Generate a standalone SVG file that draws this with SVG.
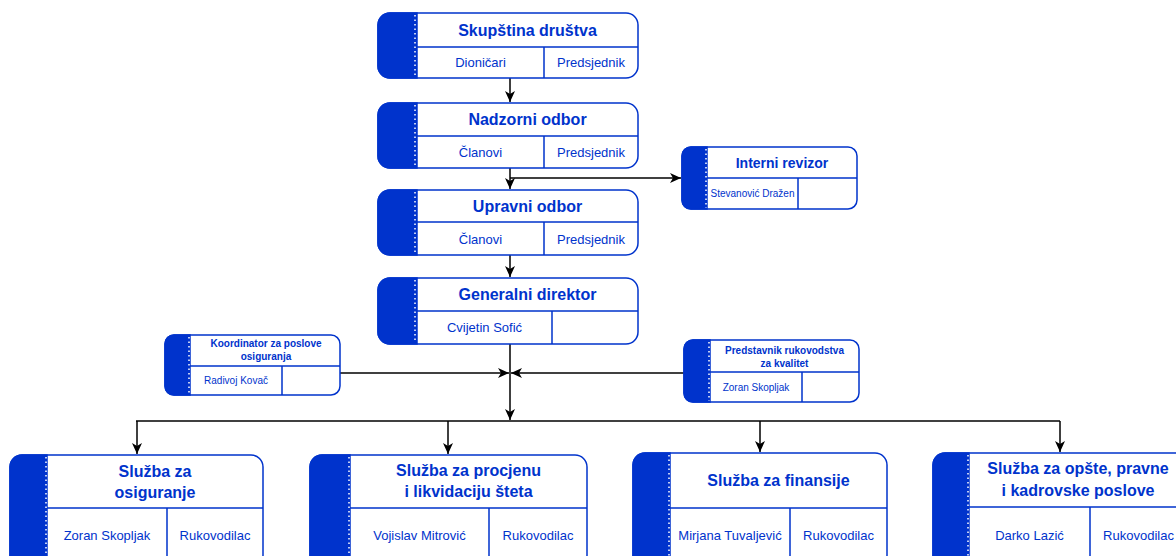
<svg xmlns="http://www.w3.org/2000/svg" width="1176" height="556" viewBox="0 0 1176 556">
<defs>
<marker id="arr" markerWidth="12" markerHeight="12" refX="11" refY="6" orient="auto" markerUnits="userSpaceOnUse">
<path d="M0,1 L11,6 L0,11 L3,6 Z" fill="#000"/>
</marker>
<style>
.box{fill:#fff;stroke:#0033cc;stroke-width:1.5}
.dark{fill:#0033cc;stroke:#0033cc;stroke-width:1.5}
.dot{stroke:#fff;stroke-width:1.5;stroke-dasharray:1.5 3;fill:none}
.div{stroke:#0033cc;stroke-width:1.5;fill:none}
.t{font-family:"Liberation Sans",Arial,sans-serif;fill:#0033cc;text-anchor:middle}
.b16{font-size:16px;font-weight:bold}
.b14{font-size:14px;font-weight:bold}
.b10{font-size:10px;font-weight:bold}
.r13{font-size:13px}
.r10{font-size:10px}
.c{stroke:#000;stroke-width:1.5;fill:none}
</style>
</defs>

<g id="connectors">
<path class="c" d="M510,78 V102" marker-end="url(#arr)"/>
<path class="c" d="M510,168 V189" marker-end="url(#arr)"/>
<path class="c" d="M510,178 H681" marker-end="url(#arr)"/>
<path class="c" d="M510,255 V277" marker-end="url(#arr)"/>
<path class="c" d="M510,344 V420" marker-end="url(#arr)"/>
<path class="c" d="M340,373 H509" marker-end="url(#arr)"/>
<path class="c" d="M684,373 H511" marker-end="url(#arr)"/>
<path class="c" d="M136,421 H1060"/>
<path class="c" d="M137,421 V454" marker-end="url(#arr)"/>
<path class="c" d="M448,421 V454" marker-end="url(#arr)"/>
<path class="c" d="M760,421 V452" marker-end="url(#arr)"/>
<path class="c" d="M1060,421 V452" marker-end="url(#arr)"/>
</g>

<g id="skupstina">
<rect class="box" x="378" y="13" width="260" height="65" rx="12"/>
<path class="dark" d="M390,13 H417 V78 H390 A12,12 0 0 1 378,66 V25 A12,12 0 0 1 390,13 Z"/>
<line class="dot" x1="415" y1="15" x2="415" y2="77"/>
<path class="div" d="M417,47 H638 M544,47 V78"/>
<text class="t b16" x="527.5" y="36">Skupština društva</text>
<text class="t r13" x="480.5" y="67">Dioničari</text>
<text class="t r13" x="591" y="67">Predsjednik</text>
</g>

<g id="nadzorni">
<rect class="box" x="378" y="103" width="260" height="65" rx="12"/>
<path class="dark" d="M390,103 H417 V168 H390 A12,12 0 0 1 378,156 V115 A12,12 0 0 1 390,103 Z"/>
<line class="dot" x1="415" y1="105" x2="415" y2="167"/>
<path class="div" d="M417,136 H638 M544,136 V168"/>
<text class="t b16" x="527.5" y="125">Nadzorni odbor</text>
<text class="t r13" x="480.5" y="157">Članovi</text>
<text class="t r13" x="591" y="157">Predsjednik</text>
</g>

<g id="interni">
<rect class="box" x="682" y="147" width="175" height="62" rx="9"/>
<path class="dark" d="M691,147 H707 V209 H691 A9,9 0 0 1 682,200 V156 A9,9 0 0 1 691,147 Z"/>
<line class="dot" x1="706" y1="149" x2="706" y2="208"/>
<path class="div" d="M707,178 H857 M798,178 V209"/>
<text class="t b14" x="782" y="168">Interni revizor</text>
<text class="t r10" x="752.5" y="197">Stevanović Dražen</text>
</g>

<g id="upravni">
<rect class="box" x="378" y="190" width="260" height="65" rx="12"/>
<path class="dark" d="M390,190 H417 V255 H390 A12,12 0 0 1 378,243 V202 A12,12 0 0 1 390,190 Z"/>
<line class="dot" x1="415" y1="192" x2="415" y2="254"/>
<path class="div" d="M417,222 H638 M544,222 V255"/>
<text class="t b16" x="527.5" y="212">Upravni odbor</text>
<text class="t r13" x="480.5" y="244">Članovi</text>
<text class="t r13" x="591" y="244">Predsjednik</text>
</g>

<g id="generalni">
<rect class="box" x="378" y="278" width="260" height="66" rx="12"/>
<path class="dark" d="M390,278 H417 V344 H390 A12,12 0 0 1 378,332 V290 A12,12 0 0 1 390,278 Z"/>
<line class="dot" x1="415" y1="280" x2="415" y2="343"/>
<path class="div" d="M417,311 H638 M552,311 V344"/>
<text class="t b16" x="527.5" y="300">Generalni direktor</text>
<text class="t r13" x="484.5" y="332">Cvijetin Sofić</text>
</g>

<g id="koordinator">
<rect class="box" x="165" y="335" width="175" height="60" rx="9"/>
<path class="dark" d="M174,335 H190 V395 H174 A9,9 0 0 1 165,386 V344 A9,9 0 0 1 174,335 Z"/>
<line class="dot" x1="189" y1="337" x2="189" y2="394"/>
<path class="div" d="M190,366 H340 M282,366 V395"/>
<text class="t b10" x="266" y="347">Koordinator za poslove</text>
<text class="t b10" x="266" y="360">osiguranja</text>
<text class="t r10" x="236" y="384">Radivoj Kovač</text>
</g>

<g id="predstavnik">
<rect class="box" x="684" y="340" width="175" height="62" rx="9"/>
<path class="dark" d="M693,340 H710 V402 H693 A9,9 0 0 1 684,393 V349 A9,9 0 0 1 693,340 Z"/>
<line class="dot" x1="709" y1="342" x2="709" y2="401"/>
<path class="div" d="M710,372 H859 M802,372 V402"/>
<text class="t b10" x="784.5" y="354">Predstavnik rukovodstva</text>
<text class="t b10" x="784.5" y="367">za kvalitet</text>
<text class="t r10" x="756" y="391">Zoran Skopljak</text>
</g>

<g id="osiguranje">
<rect class="box" x="10" y="455" width="253" height="112" rx="12"/>
<path class="dark" d="M22,455 H47 V567 H22 A12,12 0 0 1 10,555 V467 A12,12 0 0 1 22,455 Z"/>
<line class="dot" x1="46" y1="457" x2="46" y2="566"/>
<path class="div" d="M47,508 H263 M167,508 V567"/>
<text class="t b16" x="155" y="477">Služba za</text>
<text class="t b16" x="155" y="498">osiguranje</text>
<text class="t r13" x="107" y="540">Zoran Skopljak</text>
<text class="t r13" x="215" y="540">Rukovodilac</text>
</g>

<g id="procjena">
<rect class="box" x="310" y="455" width="277" height="112" rx="12"/>
<path class="dark" d="M322,455 H350 V567 H322 A12,12 0 0 1 310,555 V467 A12,12 0 0 1 322,455 Z"/>
<line class="dot" x1="349" y1="457" x2="349" y2="566"/>
<path class="div" d="M350,508 H587 M489,508 V567"/>
<text class="t b16" x="468.5" y="476">Služba za procjenu</text>
<text class="t b16" x="468.5" y="497">i likvidaciju šteta</text>
<text class="t r13" x="419.5" y="540">Vojislav Mitrović</text>
<text class="t r13" x="538" y="540">Rukovodilac</text>
</g>

<g id="finansije">
<rect class="box" x="633" y="453" width="254" height="114" rx="12"/>
<path class="dark" d="M645,453 H670 V567 H645 A12,12 0 0 1 633,555 V465 A12,12 0 0 1 645,453 Z"/>
<line class="dot" x1="669" y1="455" x2="669" y2="566"/>
<path class="div" d="M670,508 H887 M790,508 V567"/>
<text class="t b16" x="778.5" y="486">Služba za finansije</text>
<text class="t r13" x="730" y="540">Mirjana Tuvaljević</text>
<text class="t r13" x="838.5" y="540">Rukovodilac</text>
</g>

<g id="opste">
<rect class="box" x="933" y="453" width="254" height="114" rx="12"/>
<path class="dark" d="M945,453 H969 V567 H945 A12,12 0 0 1 933,555 V465 A12,12 0 0 1 945,453 Z"/>
<line class="dot" x1="968" y1="455" x2="968" y2="566"/>
<path class="div" d="M969,507 H1187 M1090,507 V567"/>
<text class="t b16" x="1078" y="474">Služba za opšte, pravne</text>
<text class="t b16" x="1078" y="496">i kadrovske poslove</text>
<text class="t r13" x="1029.5" y="540">Darko Lazić</text>
<text class="t r13" x="1138.5" y="540">Rukovodilac</text>
</g>
</svg>
